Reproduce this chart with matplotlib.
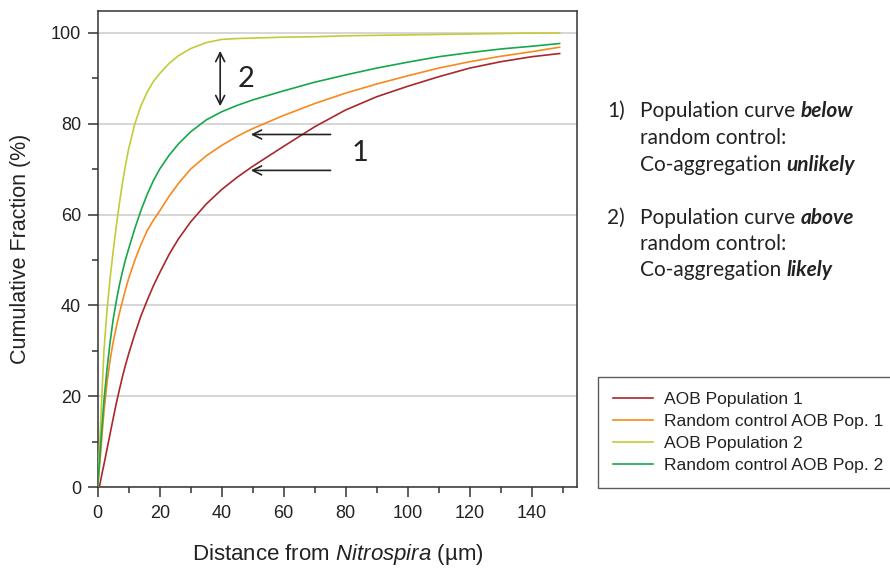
import matplotlib
matplotlib.use("Agg")
import matplotlib.pyplot as plt
from matplotlib.ticker import MultipleLocator

# distance from Nitrospira (um) where the curves were read
dist = [0, 0.5, 1, 1.5, 2, 3, 4, 5, 6, 7, 8, 9, 10, 12, 14, 16, 18, 20, 23, 26,
        30, 35, 40, 45, 50, 60, 70, 80, 90, 100, 110, 120, 130, 140, 149]

# cumulative fraction (%) for each curve
aob_pop1 = [0, 0, 1.7, 3.4, 5, 8.4, 11.8, 15.2, 18.5, 21.5, 24.4, 27, 29.4, 33.8, 37.8,
            41.2, 44.4, 47.2, 51.2, 54.6, 58.4, 62.3, 65.5, 68.2, 70.6, 75, 79.3, 83,
            85.9, 88.2, 90.3, 92.2, 93.6, 94.7, 95.4]
rand_pop1 = [0, 4, 8, 12.5, 16.5, 23, 28, 32, 35.3, 38.3, 41, 43.6, 46, 50, 53.5,
             56.5, 58.8, 60.8, 64, 66.8, 70, 72.9, 75.2, 77.2, 78.9, 81.8, 84.4, 86.7,
             88.7, 90.5, 92.2, 93.6, 94.8, 95.8, 96.8]
aob_pop2 = [0, 7.5, 15, 22.5, 30, 39, 46, 52, 57.5, 62.5, 67, 71, 74.5, 80, 84,
            87, 89.3, 91, 93.2, 94.9, 96.5, 97.8, 98.5, 98.7, 98.8, 99.0, 99.1, 99.3,
            99.4, 99.5, 99.6, 99.7, 99.8, 99.9, 99.9]
rand_pop2 = [0, 5, 10, 14.5, 19, 26, 32, 37, 41, 44.5, 47.5, 50.2, 52.5, 57, 61,
             64.5, 67.5, 70, 73, 75.5, 78.2, 80.8, 82.6, 84, 85.2, 87.2, 89.1, 90.7,
             92.2, 93.5, 94.7, 95.6, 96.4, 97.0, 97.6]

labels = ["AOB Population 1", "Random control AOB Pop. 1",
          "AOB Population 2", "Random control AOB Pop. 2"]
colors = ["#a8282b", "#f7891f", "#c2cc3a", "#15a84a"]

plt.rcParams['font.family'] = ['Liberation Sans', 'DejaVu Sans']
plt.rcParams['mathtext.fontset'] = 'custom'
plt.rcParams['mathtext.rm'] = 'Liberation Sans'
plt.rcParams['mathtext.it'] = 'Liberation Sans:italic'

fig = plt.figure(figsize=(8.9, 5.68), dpi=100)
ax = fig.add_axes([0.1098, 0.142, 0.5385, 0.839])

for ys, c, lab in zip([aob_pop1, rand_pop1, aob_pop2, rand_pop2], colors, labels):
    ax.plot(dist, ys, color=c, lw=1.2, label=lab, zorder=3)

ax.set_xlim(0, 154.6)
ax.set_ylim(0, 104.8)
ax.xaxis.set_major_locator(MultipleLocator(20))
ax.xaxis.set_minor_locator(MultipleLocator(10))
ax.yaxis.set_major_locator(MultipleLocator(20))
ax.yaxis.set_minor_locator(MultipleLocator(10))
ax.grid(axis='y', which='major', color='#cccccc', lw=1.1, zorder=0)
ax.set_axisbelow(True)
for s in ax.spines.values():
    s.set_color('#333333')
    s.set_linewidth(1.1)
ax.tick_params(which='major', length=7, width=1.1, color='#333333',
               labelsize=13, labelcolor='#222222')
ax.tick_params(which='minor', length=4, width=1.1, color='#333333')
ax.tick_params(axis='x', which='major', pad=6)
ax.tick_params(axis='y', which='major', pad=5)

ax.set_ylabel("Cumulative Fraction (%)", fontsize=15.5, color='#222222', labelpad=14)
ax.set_xlabel("Distance from $\\it{Nitrospira}$ (µm)", fontsize=16, color='#222222',
              labelpad=14)

# arrows
ax.annotate("", xy=(39.5, 83.2), xytext=(39.5, 96.6),
            arrowprops=dict(arrowstyle='<->', color='#222222', lw=1.2, mutation_scale=16))
ax.text(45.0, 89.8, "2", fontsize=21, family='Lato', color='#222222', va='center')
ax.annotate("", xy=(48.5, 77.6), xytext=(76, 77.6),
            arrowprops=dict(arrowstyle='->', color='#222222', lw=1.2, mutation_scale=16))
ax.annotate("", xy=(48.5, 69.7), xytext=(76, 69.7),
            arrowprops=dict(arrowstyle='->', color='#222222', lw=1.2, mutation_scale=16))
ax.text(82.0, 73.5, "1", fontsize=21, family='Lato', color='#222222', va='center')

leg = ax.legend(loc='upper left', bbox_to_anchor=(598 / 890, 1 - 377 / 568),
                bbox_transform=fig.transFigure, fontsize=12.6, frameon=True,
                fancybox=False, edgecolor='#333333', handlelength=2.3,
                labelspacing=0.38, borderpad=0.85, handletextpad=0.6,
                borderaxespad=0)
leg.get_frame().set_linewidth(1.0)
for t in leg.get_texts():
    t.set_color('#222222')

# side notes: plain and bold italic pieces chained on one baseline
note_size = 15


def note_line(y, pieces, x=640 / 890):
    last = None
    for txt, bold in pieces:
        kw = dict(fontsize=note_size, family='Lato', color='#222222',
                  va='baseline', ha='left')
        if bold:
            kw.update(fontweight='bold', fontstyle='italic')
        if last is None:
            last = fig.text(x, y, txt, **kw)
        else:
            last = ax.annotate(txt, xy=(1, y), xycoords=(last, 'figure fraction'),
                               annotation_clip=False, **kw)


lines = [
    (117, "1)", [("Population curve ", False), ("below", True)]),
    (144, None, [("random control:", False)]),
    (170.5, None, [("Co-aggregation ", False), ("unlikely", True)]),
    (223.5, "2)", [("Population curve ", False), ("above", True)]),
    (250, None, [("random control:", False)]),
    (276.5, None, [("Co-aggregation ", False), ("likely", True)]),
]
for py, num, pieces in lines:
    y = 1 - py / 568
    if num:
        fig.text(607 / 890, y, num, fontsize=note_size, family='Lato', color='#222222',
                 va='baseline', ha='left')
    note_line(y, pieces)

fig.savefig("out.png", dpi=100)
